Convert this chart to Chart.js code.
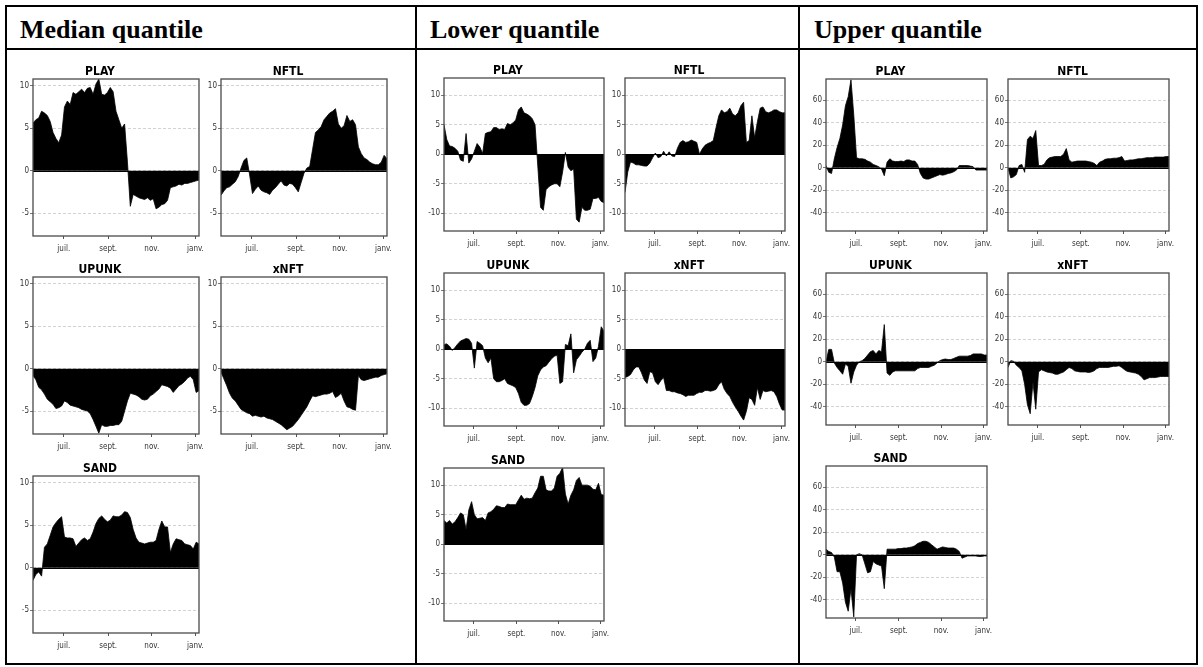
<!DOCTYPE html>
<html>
<head>
<meta charset="utf-8">
<script src="https://cdn.jsdelivr.net/npm/chart.js@4.4.1/dist/chart.umd.min.js"></script>
<style>
  body { margin: 0; background: #fff; width: 1203px; height: 667px; overflow: hidden; }
  #page { position: relative; width: 1203px; height: 667px; }
  .line { position: absolute; background: #000; }
  .head { position: absolute; top: 15px; height: 30px; line-height: 30px; font: bold 26px 'Liberation Serif', 'Times New Roman', serif; color: #000; }
  canvas { position: absolute; }
</style>
</head>
<body>
<div id="page">
  <div class="line" style="left:5px;top:5px;width:1193px;height:2px"></div>
  <div class="line" style="left:5px;top:663px;width:1193px;height:2px"></div>
  <div class="line" style="left:5px;top:5px;width:2px;height:660px"></div>
  <div class="line" style="left:1196px;top:5px;width:2px;height:660px"></div>
  <div class="line" style="left:5px;top:48px;width:1193px;height:2px"></div>
  <div class="line" style="left:415px;top:5px;width:2px;height:660px"></div>
  <div class="line" style="left:798px;top:5px;width:2px;height:660px"></div>
  <div class="head" style="left:20px">Median quantile</div>
  <div class="head" style="left:430px">Lower quantile</div>
  <div class="head" style="left:814px">Upper quantile</div>
</div>
<script>
// days since 19 May, one reading every 4 days
const days = Array.from({ length: 59 }, (_, i) => i * 4)
const monthTicks = [43, 105, 166, 227] // 1 juil, 1 sept, 1 nov, 1 janv
const monthLabels = ['juil.', 'sept.', 'nov.', 'janv.']
const assets = ['PLAY', 'NFTL', 'UPUNK', 'xNFT', 'SAND']

const medianTicks = [-5, 0, 5, 10]
const lowerTicks = [-10, -5, 0, 5, 10]
const upperTicks = [-40, -20, 0, 20, 40, 60]

// median quantile
const medianPLAY = [
  5.6, 6.0, 6.2, 7.0, 6.8, 6.5, 5.8, 4.5, 3.8, 3.3,
  4.2, 7.5, 8.2, 7.8, 9.2, 9.0, 9.3, 9.6, 9.2, 9.7,
  9.8, 9.0, 10.2, 10.8, 9.0, 8.9, 9.2, 9.8, 9.3, 7.0,
  6.0, 5.0, 5.5, 1.0, -4.2, -2.8, -3.0, -3.2, -3.3, -3.4,
  -3.2, -3.5, -3.3, -4.5, -4.3, -4.0, -3.9, -3.5, -2.0, -1.9,
  -1.8, -1.6, -1.7, -1.5, -1.5, -1.4, -1.3, -1.2, -1.1
]
const medianNFTL = [
  -2.9, -2.4, -2.0, -1.9, -1.6, -1.3, -0.7, 0.3, 1.2, 1.5,
  -0.5, -2.7, -2.2, -1.8, -2.3, -2.5, -2.6, -2.8, -2.3, -2.0,
  -1.6, -1.2, -1.7, -1.8, -1.5, -1.6, -2.0, -2.5, -1.4, -0.3,
  0.3, 0.5, 2.5, 4.5, 4.8, 5.2, 6.0, 6.4, 6.8, 7.0,
  7.3, 5.5, 5.0, 5.3, 6.5, 5.8, 6.0, 5.4, 2.8, 2.0,
  1.5, 1.3, 1.0, 0.8, 0.7, 0.7, 1.0, 1.8, 1.4
]
const medianUPUNK = [
  -0.8, -1.3, -2.2, -2.5, -3.0, -3.6, -3.9, -4.2, -4.7, -4.6,
  -4.4, -3.8, -4.0, -4.3, -4.4, -4.5, -4.6, -4.8, -4.9, -5.0,
  -5.3, -6.0, -6.8, -7.6, -6.6, -6.8, -6.8, -6.7, -6.7, -6.6,
  -6.6, -6.2, -5.0, -3.8, -2.9, -3.0, -3.1, -3.3, -3.6, -3.7,
  -3.6, -3.2, -3.0, -2.7, -2.4, -1.9, -2.0, -2.1, -2.3, -2.8,
  -2.4, -2.0, -1.8, -1.5, -1.1, -0.9, -1.3, -2.8, -2.6
]
const medianXNFT = [
  -0.4, -1.2, -2.0, -2.9, -3.5, -3.8, -4.3, -4.8, -5.0, -5.2,
  -5.3, -5.6, -5.5, -5.6, -5.7, -5.6, -5.8, -5.9, -6.0, -6.2,
  -6.4, -6.6, -6.9, -7.2, -7.0, -6.8, -6.4, -6.0, -5.5, -5.0,
  -4.5, -3.8, -3.2, -3.3, -3.2, -3.1, -3.0, -3.0, -2.9, -2.7,
  -3.4, -3.2, -2.9, -3.8, -4.5, -4.6, -4.8, -4.9, -0.8, -1.3,
  -1.4, -1.3, -1.2, -1.1, -1.0, -1.0, -0.8, -0.7, -0.6
]
const medianSAND = [
  -1.5, -0.8, -0.5, -1.0, 2.4, 2.8, 3.8, 4.8, 5.3, 5.7,
  6.0, 3.6, 3.5, 3.5, 3.4, 2.5, 2.9, 3.3, 3.5, 3.2,
  3.4, 4.2, 5.2, 5.8, 6.1, 5.7, 5.4, 5.6, 6.1, 6.0,
  6.0, 6.2, 6.6, 6.5, 5.9, 4.5, 3.5, 3.0, 2.9, 2.8,
  2.9, 3.0, 3.0, 3.2, 4.5, 5.5, 4.8, 4.8, 1.8, 2.8,
  3.4, 3.3, 3.2, 2.8, 2.7, 2.6, 2.2, 3.0, 2.8
]

// lower quantile
const lowerPLAY = [
  5.0, 2.5, 1.4, 1.3, 1.0, 0.5, -1.0, -1.2, 3.5, -1.5,
  -0.8, 0.5, 1.8, 1.2, 0.1, 3.5, 3.7, 3.8, 4.5, 4.5,
  4.2, 4.3, 4.2, 5.2, 5.0, 5.3, 5.8, 7.5, 8.0, 7.0,
  6.8, 6.5, 6.0, 5.0, -2.0, -9.0, -9.5, -6.0, -5.5, -5.2,
  -5.0, -5.0, -5.5, -3.0, 0.3, -2.2, -2.8, -2.5, -11.0, -11.5,
  -9.0, -9.5, -9.5, -9.3, -7.5, -7.5, -7.3, -8.0, -8.2
]
const lowerNFTL = [
  -6.5, -3.0, -1.3, -1.5, -1.8, -1.8, -1.9, -2.0, -2.0, -1.5,
  -0.6, 0.2, -0.6, -0.4, 0.5, -0.3, 0.4, -0.3, -0.4, 1.0,
  2.0, 2.3, 2.0, 2.1, 2.4, 2.2, 2.0, 0.0, 0.9, 1.5,
  1.8, 2.0, 2.3, 4.5, 6.5, 7.5, 7.0, 7.2, 7.8, 6.8,
  6.5, 7.0, 8.2, 8.8, 2.0, 2.3, 6.5, 2.8, 5.5, 7.8,
  8.0, 7.2, 7.0, 7.2, 7.5, 7.5, 7.2, 7.0, 7.0
]
const lowerUPUNK = [
  0.8, 0.9, 0.5, -0.2, 0.3, 0.9, 1.4, 1.6, 1.8, 1.7,
  1.0, -3.2, 1.3, 1.0, 0.6, -1.5, -2.3, -1.5, -5.0, -5.5,
  -5.5, -5.3, -5.0, -5.8, -6.0, -6.2, -6.5, -7.5, -9.0, -9.5,
  -9.5, -9.2, -8.0, -6.5, -4.5, -3.5, -3.0, -2.8, -2.2, -1.6,
  -1.2, -1.0, -5.8, -5.5, 0.8, 0.6, 2.6, -4.0, -1.8, -1.2,
  -0.5, 0.0, 1.0, 1.5, -2.1, -1.5, 0.5, 3.8, 3.0
]
const lowerXNFT = [
  -4.8, -4.6, -4.3, -3.5, -3.0, -3.0, -4.0, -5.2, -5.8, -3.8,
  -4.0, -5.5, -6.0, -5.3, -4.8, -7.0, -7.0, -7.2, -7.2, -7.4,
  -7.5, -7.7, -8.0, -7.8, -7.8, -7.8, -7.5, -7.3, -7.3, -7.0,
  -7.0, -7.1, -7.0, -6.8, -6.0, -5.5, -6.8, -7.5, -8.0, -9.0,
  -9.8, -10.5, -11.3, -12.0, -10.5, -8.2, -8.5, -9.5, -6.5, -8.5,
  -7.0, -7.2, -7.1, -7.0, -7.2, -8.0, -9.3, -10.3, -10.3
]
const lowerSAND = [
  4.0, 3.6, 4.0, 3.4, 3.8, 4.5, 5.3, 5.0, 2.5, 5.8,
  7.2, 5.0, 4.3, 4.4, 4.5, 4.0, 5.3, 5.5, 5.9, 6.5,
  6.4, 6.2, 6.2, 6.8, 6.7, 6.7, 6.7, 7.5, 8.3, 7.6,
  7.8, 7.7, 7.8, 8.7, 9.5, 11.5, 11.5, 9.2, 9.0, 9.0,
  9.5, 11.5, 12.0, 13.0, 8.5, 6.8, 8.3, 9.2, 10.8, 11.3,
  10.0, 10.0, 10.0, 9.8, 9.3, 9.2, 10.3, 8.4, 8.3
]

// upper quantile
const upperPLAY = [
  2, -4, -5, 8, 18, 26, 38, 55, 63, 78,
  47, 9, 8, 8, 7.5, 6, 5, 3, 2, 1,
  -1, -7, 5, 8, 6, 5.5, 5.5, 6, 5.5, 7,
  7, 6, 6, 3, -5, -9, -10, -10, -9, -8,
  -7, -6, -6.5, -6, -5, -4.5, -3.5, -2, 2, 2,
  2, 2, 1.5, 1, -2, -2, -2, -2, -2
]
const upperNFTL = [
  0, -9, -8, -6, 2, 3, -4, 25, 28, 26,
  33, 2, 2, 3, 7, 9, 9.5, 10, 10, 10,
  12, 17, 7, 5, 5.5, 6, 6, 6, 6, 5.5,
  5, 4, 2, 5, 6, 7.5, 8, 8, 8.5, 8.5,
  9, 10, 6, 6.5, 7, 7, 7.5, 8, 8, 8.5,
  9, 9, 9, 9.5, 9.5, 9.5, 9.5, 10, 10
]
const upperUPUNK = [
  0, 11, 11, -1, -5, -8, -11, -2, -4, -19,
  -9, -3, 0, 1, 3, 6, 9, 10, 7, 10,
  9, 33, -10, -12, -9, -8, -8, -8, -8, -8,
  -8, -8, -8, -6, -5, -5, -5, -5, -4, -3,
  -1, 1, 2, 2.5, 2, 2, 3, 4, 5, 5,
  5, 5, 5.5, 7, 7, 7, 7, 6, 6
]
const upperXNFT = [
  -5, 1, 0.5, -3, -5, -8, -20, -38, -46, -18,
  -42, -9, -7, -8, -9, -9.5, -10, -11, -11, -10,
  -9, -7, -5, -6, -8, -8.5, -9, -9, -9, -9.5,
  -9, -8, -6, -5, -5, -5, -5, -4.5, -4, -4,
  -3.5, -5, -7, -8.5, -9, -9.5, -10, -11, -13, -16,
  -15, -14, -14, -14, -13.5, -13, -13, -13, -13
]
const upperSAND = [
  5, 3, 2, -2, -15, -15, -25, -42, -50, -30,
  -55, 0, 1, 0, -8, -16, -15, -6, -8, -9,
  -10, -30, 5, 5, 5, 5, 5.5, 5.5, 6, 6,
  6.5, 7, 8, 10, 11, 12, 12, 11, 9, 7,
  5, 6, 7, 6.5, 6, 6, 6, 5, 3, -3,
  -2, -1, -1, -1, -1, -1.5, -1.5, -1, -1
]

const columns = [
  { series: [medianPLAY, medianNFTL, medianUPUNK, medianXNFT, medianSAND], lefts: [33, 221], tops: [79, 277, 476], w: 166, h: 157, yMin: -7.7, yMax: 10.8, yTicks: medianTicks },
  { series: [lowerPLAY, lowerNFTL, lowerUPUNK, lowerXNFT, lowerSAND], lefts: [444, 625], tops: [78, 273, 468], w: 160, h: 153, yMin: -13, yMax: 12.9, yTicks: lowerTicks },
  { series: [upperPLAY, upperNFTL, upperUPUNK, upperXNFT, upperSAND], lefts: [826, 1008], tops: [79, 273, 466], w: 161, h: 152, yMin: -56, yMax: 78.7, yTicks: upperTicks }
]

const narrow = "'Liberation Sans Narrow', 'DejaVu Sans Condensed', 'DejaVu Sans', sans-serif"
const tickFont = { family: narrow, size: 8, weight: 'condensed' }

// panel frame + solid zero line
const framePlugin = {
  id: 'frame',
  afterDatasetsDraw(chart) {
    const { ctx, chartArea: a, scales } = chart
    const y0 = Math.round(scales.y.getPixelForValue(0)) + 0.5
    ctx.save()
    ctx.strokeStyle = '#000'
    ctx.lineWidth = 1.2
    ctx.beginPath()
    ctx.moveTo(a.left, y0)
    ctx.lineTo(a.right, y0)
    ctx.stroke()
    ctx.strokeStyle = '#4a4a4a'
    ctx.lineWidth = 1.3
    ctx.strokeRect(a.left, a.top, a.right - a.left, a.bottom - a.top)
    ctx.restore()
  }
}

const page = document.getElementById('page')

columns.forEach(col => {
  assets.forEach((name, i) => {
    const row = Math.floor(i / 2)
    const c = i % 2
    const canvas = document.createElement('canvas')
    canvas.width = col.w + 46
    canvas.height = col.h + 42
    canvas.style.left = (col.lefts[c] - 32) + 'px'
    canvas.style.top = (col.tops[row] - 20) + 'px'
    page.appendChild(canvas)

    const values = col.series[i]
    new Chart(canvas, {
      type: 'line',
      data: {
        datasets: [{
          data: days.map((d, k) => ({ x: d, y: values[k] })),
          fill: 'origin',
          backgroundColor: '#000',
          borderColor: '#000',
          borderWidth: 0.8,
          pointRadius: 0,
          tension: 0
        }]
      },
      options: {
        responsive: false,
        animation: false,
        events: [],
        layout: { padding: { top: 0, right: 14, left: 0, bottom: 0 } },
        plugins: {
          legend: { display: false },
          tooltip: { enabled: false },
          title: {
            display: true,
            text: name,
            color: '#000',
            font: { family: narrow, size: 12, weight: 'bold condensed', lineHeight: 1.2 },
            padding: { top: 5.6, bottom: 0 }
          }
        },
        scales: {
          x: {
            type: 'linear',
            min: 0,
            max: 232,
            afterBuildTicks: s => { s.ticks = monthTicks.map(v => ({ value: v })) },
            afterFit: s => { s.height = 22 },
            ticks: {
              callback: (v, idx) => monthLabels[idx],
              autoSkip: false,
              maxRotation: 0,
              padding: 5,
              font: tickFont,
              color: '#333'
            },
            grid: { drawOnChartArea: false, tickLength: 3, tickColor: '#555', tickBorderDash: [] },
            border: { display: false }
          },
          y: {
            min: col.yMin,
            max: col.yMax,
            afterBuildTicks: s => { s.ticks = col.yTicks.map(v => ({ value: v })) },
            afterFit: s => { s.width = 32 },
            ticks: { font: tickFont, color: '#333', padding: 1 },
            grid: { color: '#c8c8c8', lineWidth: 0.8, tickLength: 3, tickColor: '#555', tickBorderDash: [] },
            border: { display: false, dash: [3, 2] }
          }
        }
      },
      plugins: [framePlugin]
    })
  })
})
</script>
</body>
</html>
